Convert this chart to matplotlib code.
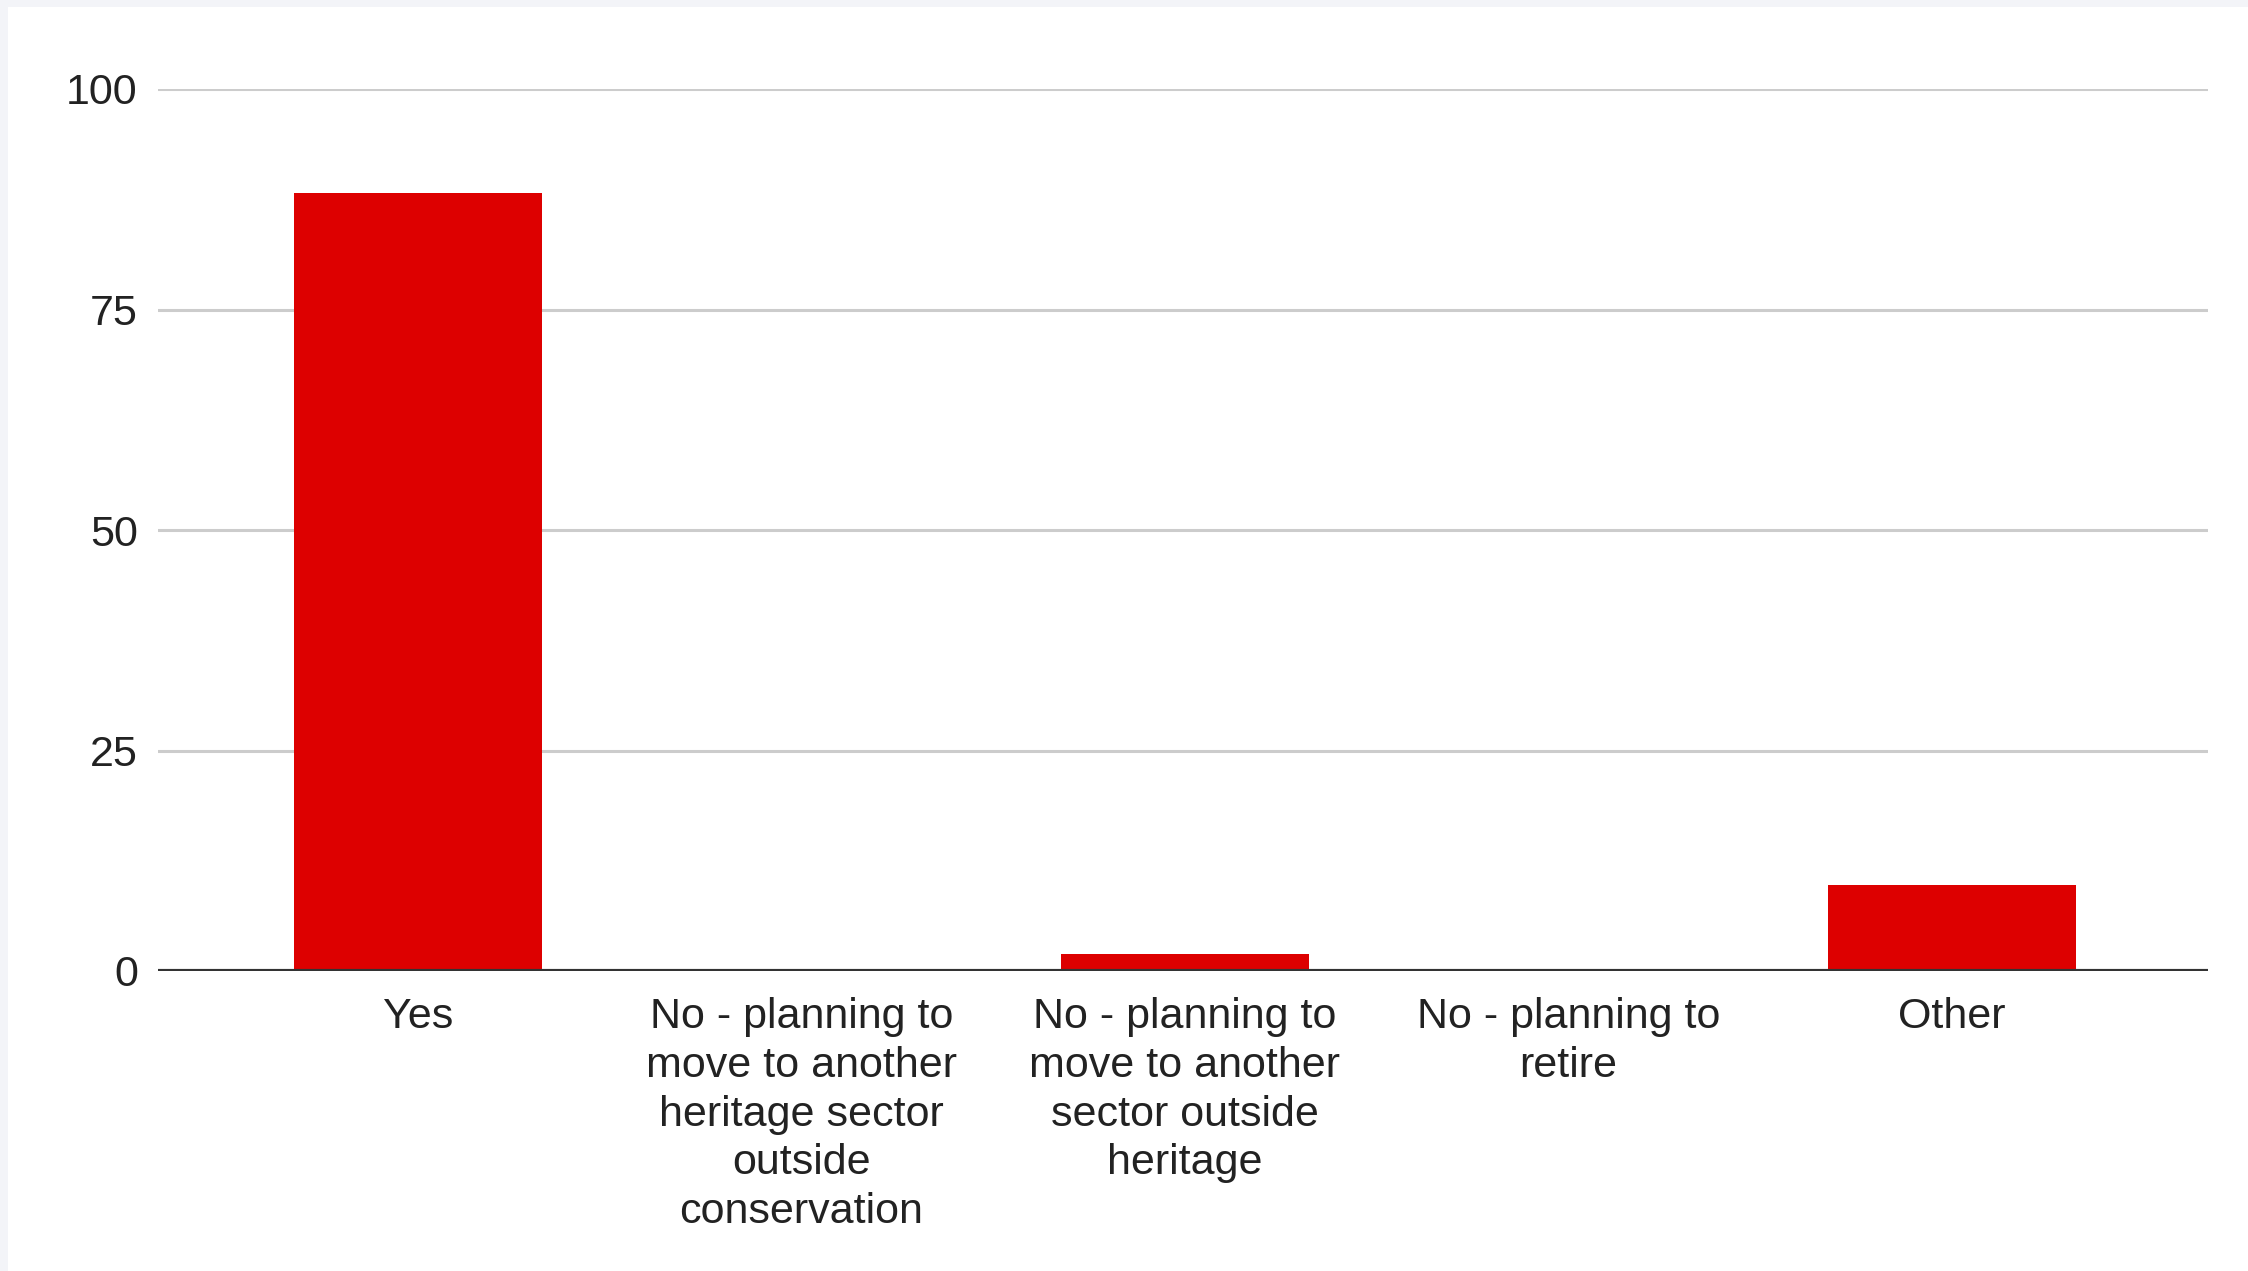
import matplotlib
matplotlib.use('Agg')
import matplotlib.pyplot as plt
from matplotlib.patches import Rectangle

plt.rcParams['font.family'] = ['Liberation Sans', 'DejaVu Sans']

# 数据
categories = ['Yes',
              'No - planning to\nmove to another\nheritage sector\noutside\nconservation',
              'No - planning to\nmove to another\nsector outside\nheritage',
              'No - planning to\nretire',
              'Other']
values = [88.24, 0, 1.96, 0, 9.80]
yticks = [0, 25, 50, 75, 100]

fig = plt.figure(figsize=(22.48, 12.71), dpi=100, facecolor='#f3f4f8')
# 白色底板（左、上留一条浅灰边）
fig.patches.append(Rectangle((8 / 2248, 0), 1, 1 - 7 / 1271,
                             transform=fig.transFigure, facecolor='white',
                             edgecolor='none', zorder=-10))

ax = fig.add_axes([158 / 2248, 300 / 1271, 2050 / 2248, 882 / 1271])
ax.set_facecolor('none')

x = list(range(len(categories)))
ax.bar(x, values, width=0.647, color='#dd0000', zorder=3)

ax.set_xlim(-0.678, 4.668)
ax.set_ylim(0, 100)
ax.set_yticks(yticks)
ax.set_yticklabels([str(t) for t in yticks])
ax.set_xticks(x)
ax.set_xticklabels(categories, linespacing=1.28)

ax.grid(axis='y', color='#cccccc', linewidth=2.2, zorder=0)
ax.axhline(0, color='#333333', linewidth=3, zorder=4)

for s in ax.spines.values():
    s.set_visible(False)
ax.tick_params(axis='both', length=0, labelsize=31, colors='#222222')
ax.tick_params(axis='y', pad=14.5)
ax.tick_params(axis='x', pad=19)

plt.savefig('out.png', dpi=100, facecolor=fig.get_facecolor())
